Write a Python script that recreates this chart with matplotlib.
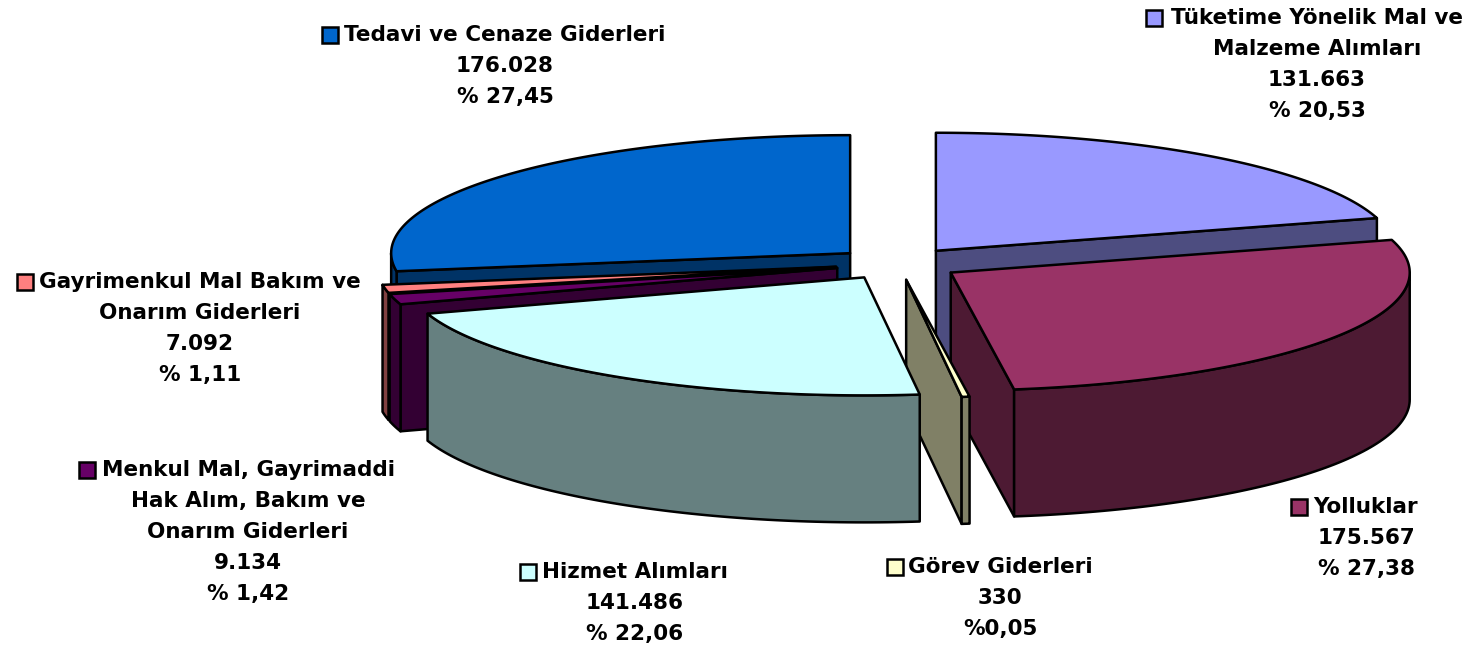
import matplotlib
matplotlib.use('Agg')
import matplotlib.pyplot as plt
from matplotlib.patches import Polygon, Rectangle
import numpy as np

# data
names = ['Tüketime Yönelik Mal ve\nMalzeme Alımları', 'Yolluklar', 'Görev Giderleri', 'Hizmet Alımları',
         'Menkul Mal, Gayrimaddi\nHak Alım, Bakım ve\nOnarım Giderleri', 'Gayrimenkul Mal Bakım ve\nOnarım Giderleri',
         'Tedavi ve Cenaze Giderleri']
values = [131663, 175567, 330, 141486, 9134, 7092, 176028]
value_labels = ['131.663', '175.567', '330', '141.486', '9.134', '7.092', '176.028']
pct_labels = ['% 20,53', '% 27,38', '%0,05', '% 22,06', '% 1,42', '% 1,11', '% 27,45']

# look of the slices
top_colors = ['#9999FF', '#993366', '#FFFFCC', '#CCFFFF', '#660066', '#FF8080', '#0066CC']
side_colors = ['#4D4D80', '#4D1A33', '#808066', '#668080', '#330033', '#804040', '#003366']
draw_order = [6, 0, 5, 4, 1, 2, 3]
cx, cy = 898, 263.7
rx, ry = 459, 118
depth = 127
explode = 63
min_sweep = 1.0
edge_w = 1.8

# label block centre x, y of each line, key x
label_x = [1317, 1366, 1000, 635, 248, 200, 505]
label_y = [18, 507, 567, 572, 470, 282, 35]
key_x = [1154, 1299, 895, 528, 87, 25, 330]
line_h = 31

fig = plt.figure(figsize=(14.72, 6.53), dpi=100)
ax = fig.add_axes([0, 0, 1, 1])
ax.set_xlim(0, 1472)
ax.set_ylim(653, 0)
ax.axis('off')

def rim(a, ox, oy, dz=0):
    a = np.radians(a)
    return np.column_stack([ox + rx * np.sin(a), oy - ry * np.cos(a) + dz])

def add(pts, color):
    ax.add_patch(Polygon(pts, closed=True, facecolor=color, edgecolor='black', linewidth=edge_w, joinstyle='round'))

total = sum(values)
cum = 0
angles = []
for v in values:
    sweep = v / total * 360
    angles.append([cum, cum + sweep, cum + sweep / 2])
    cum += sweep

# a hair-thin slice is widened, the neighbours give up the room
for i in range(len(values)):
    a0, a1, mid = angles[i]
    if a1 - a0 < min_sweep:
        angles[i][0] = mid - min_sweep / 2
        angles[i][1] = mid + min_sweep / 2
        angles[i - 1][1] = angles[i][0]
        angles[i + 1][0] = angles[i][1]

for i in draw_order:
    a0, a1, mid = angles[i]
    m = np.radians(mid)
    ox = cx + explode * np.sin(m)
    oy = cy - explode * ry / rx * np.cos(m)
    apex = np.array([[ox, oy]])
    # cut faces that look at the viewer
    if 180 < a0 < 360:
        p = rim(a0, ox, oy)
        add(np.vstack([apex, p, p + [0, depth], apex + [0, depth]]), side_colors[i])
    if 0 < a1 < 180:
        p = rim(a1, ox, oy)
        add(np.vstack([apex, p, p + [0, depth], apex + [0, depth]]), side_colors[i])
    # outer wall, only the front half of the circle
    w0, w1 = max(a0, 90), min(a1, 270)
    if w1 > w0:
        arc = np.linspace(w0, w1, 80)
        add(np.vstack([rim(arc, ox, oy), rim(arc[::-1], ox, oy, depth)]), side_colors[i])
    arc = np.linspace(a0, a1, 160)
    add(np.vstack([apex, rim(arc, ox, oy)]), top_colors[i])

# labels
for i in range(len(names)):
    lines = names[i].split('\n') + [value_labels[i], pct_labels[i]]
    for j, line in enumerate(lines):
        ax.text(label_x[i], label_y[i] + j * line_h, line, ha='center', va='center', fontsize=15.5,
                fontweight='bold', family=['DejaVu Sans'], color='black')
    ax.add_patch(Rectangle((key_x[i] - 8, label_y[i] - 8), 16, 16, facecolor=top_colors[i], edgecolor='black', linewidth=edge_w))

fig.savefig('out.png', dpi=100)
